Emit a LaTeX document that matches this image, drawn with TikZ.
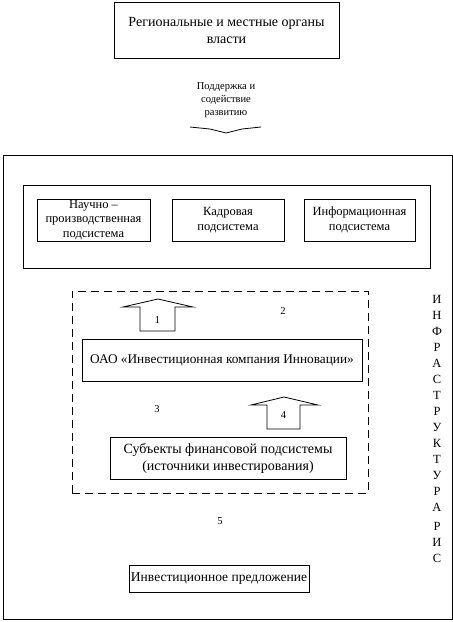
\documentclass[tikz,border=0pt]{standalone}
\usepackage{fontspec}
\setmainfont{Liberation Serif}
\begin{document}
\begin{tikzpicture}[x=1pt,y=-1pt,
  boxst/.style={draw,thick,inner sep=0pt,align=center},
  dashbox/.style={draw,thick,dash pattern=on 8pt off 5pt},
  txt/.style={inner sep=0pt,align=center},
  blockarrow/.style={draw,thick,fill=white},
  f14/.style={font=\fontsize{14}{17}\selectfont},
  f12/.style={font=\fontsize{12.5}{14.5}\selectfont},
  f13/.style={font=\fontsize{13.5}{15}\selectfont},
  f9/.style={font=\fontsize{10.5}{13}\selectfont},
  f10/.style={font=\fontsize{10.5}{12}\selectfont}]
\useasboundingbox (0,0) rectangle (453,622);
% top box
\node[boxst,f14,minimum width=225pt,minimum height=56pt] (top) at (226.5,30) {Региональные и местные органы\\власти};
\node[txt,f9] (support) at (226,100) {Поддержка и\\содействие\\развитию};
\coordinate (chl) at (190,127);
\coordinate (chr) at (261,127);
\draw[thick] (chl) -- (210,129) -- (226,133) -- (242,129) -- (chr);
% outer box
\node[draw,thick,minimum width=449pt,minimum height=464pt,inner sep=0pt] (outer) at (227.5,387) {};
% inner subsystem box
\node[draw,thick,minimum width=407pt,minimum height=83pt,inner sep=0pt] (sub) at (226.5,226.5) {};
\node[boxst,f12,minimum width=113pt,minimum height=42pt] (nauch) at (93.5,220) {Научно –\\производственная\\подсистема};
\node[boxst,f12,minimum width=112pt,minimum height=42pt] (kadr) at (228,220) {Кадровая\\подсистема};
\node[boxst,f12,minimum width=111pt,minimum height=42pt] (info) at (359.5,220) {Информационная\\подсистема};
% dashed box
\node[dashbox,minimum width=296pt,minimum height=202pt,inner sep=0pt] (dash) at (220,392) {};
% arrow 1
\draw[blockarrow] (140,331) -- (140,307) -- (123,307) -- (158,299) -- (193,307) -- (175,307) -- (175,331) -- cycle;
\node[txt,f10] (n1) at (157.5,320) {1};
\node[txt,f10] (n2) at (283,311) {2};
% OAO box
\node[boxst,f14,minimum width=280pt,minimum height=42pt,font=\fontsize{13.3}{17}\selectfont] (oao) at (222,360) {ОАО «Инвестиционная компания Инновации»};
\node[txt,f10] (n3) at (157,409) {3};
% arrow 4
\draw[blockarrow] (267,429) -- (267,405) -- (251,405) -- (284,397) -- (318,405) -- (300,405) -- (300,429) -- cycle;
\node[txt,f10] (n4) at (283.5,415) {4};
% subjects box
\node[boxst,f14,minimum width=236pt,minimum height=42pt] (subj) at (228,458) {Субъекты финансовой подсистемы\\(источники инвестирования)};
\node[txt,f10] (n5) at (220,521) {5};
% investment offer
\node[boxst,f13,minimum width=180pt,minimum height=27pt] (offer) at (219,578.5) {Инвестиционное предложение};
% vertical text
\node[txt,font=\fontsize{12.5}{16}\selectfont] (vert) at (437,429) {И\\Н\\Ф\\Р\\А\\С\\Т\\Р\\У\\К\\Т\\У\\Р\\А\\[3pt]Р\\И\\С};
\end{tikzpicture}
\end{document}
